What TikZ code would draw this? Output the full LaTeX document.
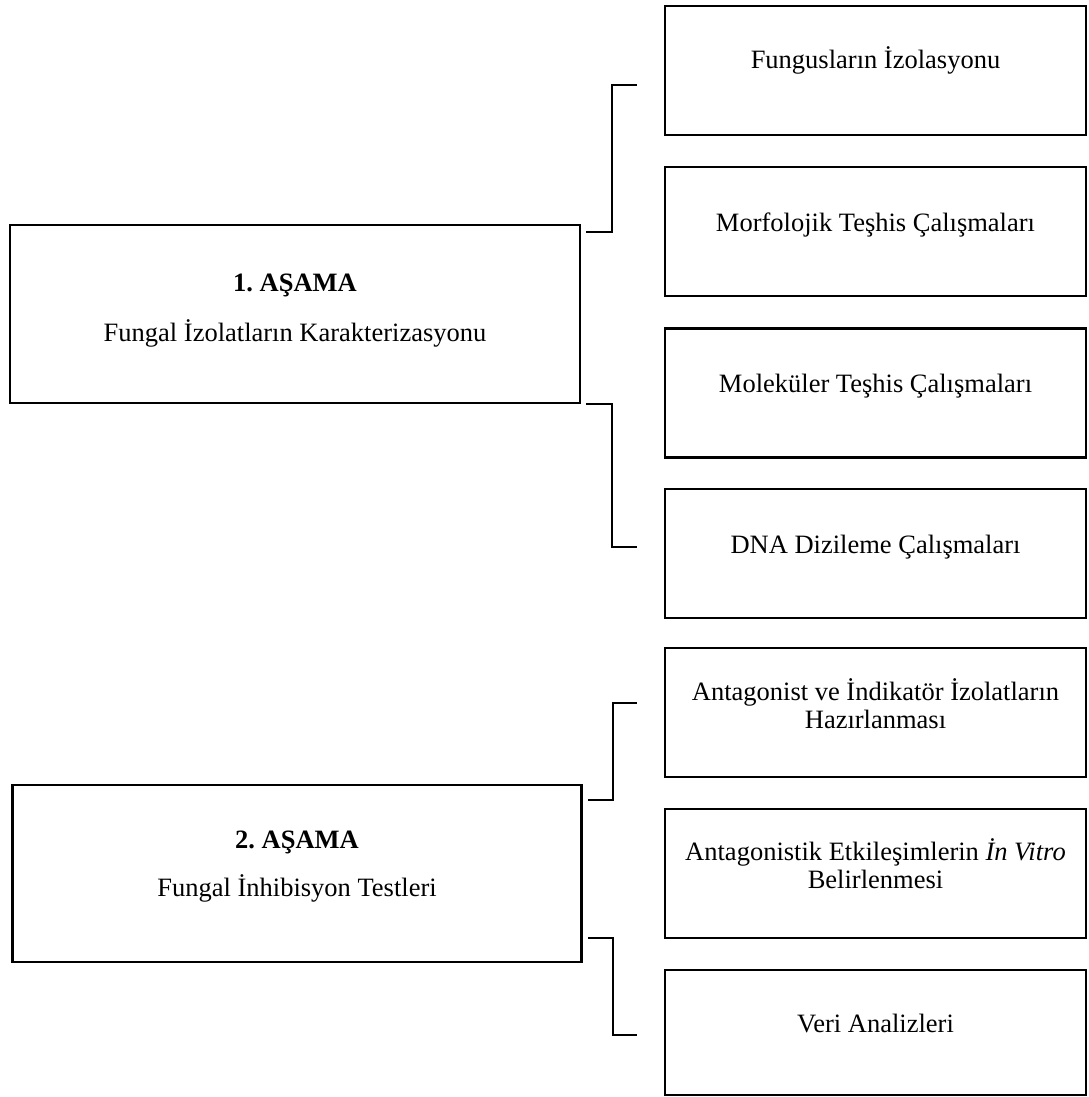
\documentclass[tikz,border=0pt]{standalone}
\usepackage{fontspec}
\setmainfont{Liberation Serif}
\frenchspacing
\begin{document}
\begin{tikzpicture}[x=1pt,y=-1pt,
  box/.style={draw=black,line width=2.7pt,rectangle,inner sep=0pt},
  rbox/.style={box,minimum width=421pt,minimum height=129pt},
  txt/.style={inner sep=0pt,anchor=base,align=center,font=\fontsize{26.5}{28.5}\selectfont},
  brk/.style={draw=black,line width=2.4pt}]
\useasboundingbox (0,0) rectangle (1088,1097);
% stage boxes
\node[box,minimum width=570pt,minimum height=178pt] (s1) at (295,314) {};
\node[box,minimum width=569pt,minimum height=177pt] (s2) at (297,873.5) {};
\node[txt] (s1a) at (295,291) {\bfseries 1. AŞAMA};
\node[txt] (s1b) at (295,341) {Fungal İzolatların Karakterizasyonu};
\node[txt] (s2a) at (297,848) {\bfseries 2. AŞAMA};
\node[txt] (s2b) at (297,896) {Fungal İnhibisyon Testleri};
% right boxes
\node[rbox] (a) at (875.5,70.5) {};
\node[rbox] (b) at (875.5,231.5) {};
\node[rbox] (c) at (875.5,393) {};
\node[rbox] (d) at (875.5,553.5) {};
\node[rbox] (e) at (875.5,712.5) {};
\node[rbox] (f) at (875.5,873.5) {};
\node[rbox,minimum height=125pt] (g) at (875.5,1032.5) {};
\node[txt] (ta) at (875.5,69) {Fungusların İzolasyonu};
\node[txt] (tb) at (875.5,231) {Morfolojik Teşhis Çalışmaları};
\node[txt] (tc) at (875.5,392) {Moleküler Teşhis Çalışmaları};
\node[txt] (td) at (875.5,553) {DNA Dizileme Çalışmaları};
\node[txt,anchor=north] (te) at (875.5,678) {Antagonist ve İndikatör İzolatların\\Hazırlanması};
\node[txt,anchor=north] (tf) at (875.5,838) {Antagonistik Etkileşimlerin \textit{İn Vitro}\\Belirlenmesi};
\node[txt] (tg) at (875.5,1032) {Veri Analizleri};
% bracket coordinates
\coordinate (p1) at (586,232);
\coordinate (q1) at (637,85);
\coordinate (p2) at (586,404);
\coordinate (q2) at (637,547);
\coordinate (p3) at (588,800);
\coordinate (q3) at (637,703);
\coordinate (p4) at (588,938);
\coordinate (q4) at (637,1035);
\draw[brk] (p1) -- (612,232) -- (612,85) -- (q1);
\draw[brk] (p2) -- (612,404) -- (612,547) -- (q2);
\draw[brk] (p3) -- (613,800) -- (613,703) -- (q3);
\draw[brk] (p4) -- (613,938) -- (613,1035) -- (q4);
\end{tikzpicture}
\end{document}
